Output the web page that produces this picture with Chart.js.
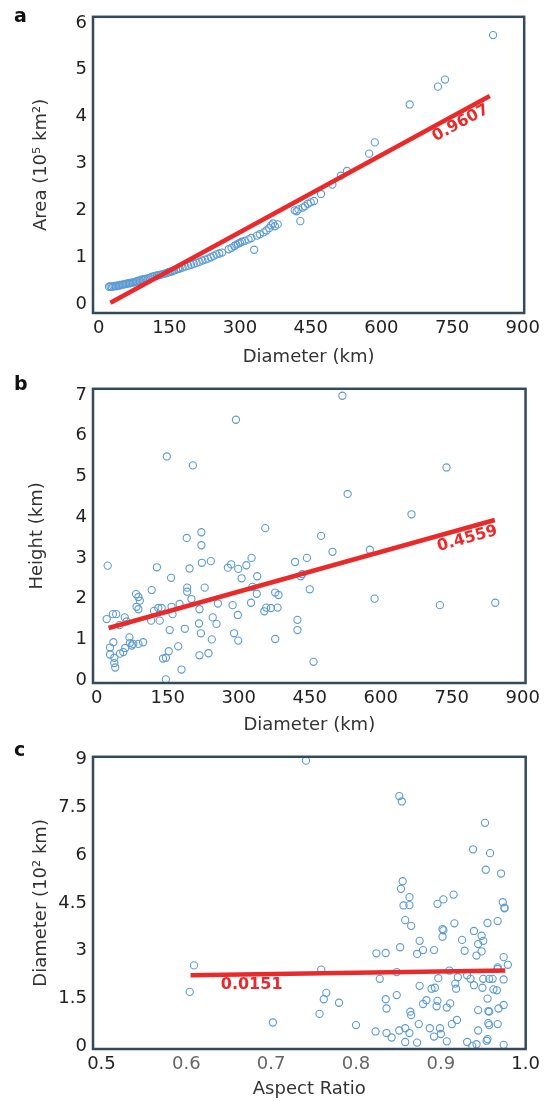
<!DOCTYPE html>
<html><head><meta charset="utf-8">
<script src="https://cdn.jsdelivr.net/npm/chart.js@4.4.1/dist/chart.umd.min.js"></script>
<style>
html,body{margin:0;padding:0;background:#fff;}
#wrap{position:relative;width:545px;height:1101px;overflow:hidden;background:#fff;}
canvas{position:absolute;left:0;}
.lbl{position:absolute;font:bold 19px "DejaVu Sans",sans-serif;color:#111;line-height:19px;}
</style></head><body>
<div id="wrap">
<canvas id="ca" width="545" height="372" style="top:0px"></canvas>
<canvas id="cb" width="545" height="368" style="top:372px"></canvas>
<canvas id="cc" width="545" height="361" style="top:740px"></canvas>
<div class="lbl" style="left:14px;top:6px">a</div>
<div class="lbl" style="left:14px;top:374px">b</div>
<div class="lbl" style="left:14px;top:740px">c</div>
</div>
<script>
// ---------- Panel a: Area vs Diameter ----------
const areaDiameterKm = [22,25,28,31,34,37,40,43,46,49,52,55,58,61,64,67,70,73,76,79,82,85,88,91,94,97,100,104,108,112,116,120,124,128,132,136,140,144,148,152,156,160,164,168,172,178,184,190,196,202,208,214,220,226,232,238,244,250,256,262,276,282,288,292,296,300,304,310,318,324,330,336,342,350,356,362,366,370,374,380,416,420,424,428,433,438,444,450,457,472,496,514,527,574,586,660,720,735,837];
const areaValues = [0.37,0.38,0.37,0.38,0.39,0.38,0.40,0.39,0.41,0.41,0.42,0.42,0.43,0.44,0.44,0.45,0.46,0.46,0.47,0.48,0.49,0.50,0.50,0.52,0.52,0.53,0.54,0.55,0.56,0.58,0.59,0.60,0.61,0.62,0.63,0.64,0.65,0.66,0.68,0.69,0.70,0.72,0.73,0.75,0.76,0.78,0.80,0.82,0.84,0.86,0.88,0.90,0.93,0.95,0.97,1.00,1.03,1.06,1.08,1.10,1.17,1.20,1.24,1.27,1.29,1.31,1.33,1.35,1.38,1.41,1.16,1.46,1.49,1.53,1.57,1.62,1.68,1.72,1.66,1.70,2.00,1.98,2.02,1.77,2.06,2.09,2.14,2.17,2.20,2.35,2.55,2.74,2.84,3.21,3.45,4.26,4.64,4.79,5.74];
const areaFitX = [25, 830];
const areaFitY = [0.03, 4.44];

// ---------- Panel b: Height vs Diameter ----------
const heightDiameterKm = [23,21,34,41,59,63,48,35,28,28,37,37,39,49,56,60,69,70,74,77,88,98,83,88,91,84,88,116,115,121,130,137,133,127,157,154,140,146,152,146,158,160,172,179,175,186,190,191,191,196,200,221,221,222,217,216,220,217,228,241,236,245,253,243,256,277,284,299,316,327,306,339,287,298,290,299,326,338,329,354,358,368,377,384,382,377,356,419,424,424,444,474,498,577,431,434,450,458,587,725,842,148,203,294,519,530,739,665];
const heightValues = [2.81,1.50,1.62,1.62,1.54,1.44,1.35,0.93,0.80,0.63,0.55,0.42,0.31,0.65,0.69,0.79,1.05,0.91,0.85,0.89,0.89,0.93,2.11,2.04,1.95,1.80,1.74,2.21,1.46,1.70,1.77,1.77,1.46,2.77,2.51,1.23,0.53,0.55,0.71,0.02,1.80,1.62,0.83,0.26,1.87,1.26,3.49,2.27,2.17,2.74,1.99,3.63,3.31,2.88,1.74,1.39,1.15,0.61,2.27,2.92,0.66,1.54,1.38,1.00,1.88,2.76,2.84,2.73,2.82,3.00,2.50,2.55,1.84,1.60,1.15,0.97,1.90,2.12,2.29,1.69,1.78,1.77,2.15,2.09,1.78,1.01,3.73,2.90,1.48,1.23,3.00,3.54,3.15,3.20,2.55,2.60,2.23,0.45,2.00,1.84,1.90,5.49,5.27,6.39,6.98,4.57,5.22,4.07];
const heightFitX = [25, 841];
const heightFitY = [1.28, 3.93];

// ---------- Panel c: Diameter vs Aspect Ratio ----------
const aspectRatio = [0.741,0.851,0.854,0.952,0.938,0.958,0.953,0.971,0.855,0.853,0.863,0.856,0.863,0.896,0.903,0.915,0.973,0.975,0.858,0.865,0.902,0.903,0.902,0.916,0.939,0.948,0.950,0.944,0.955,0.967,0.925,0.928,0.948,0.942,0.875,0.879,0.872,0.892,0.852,0.835,0.759,0.828,0.848,0.910,0.920,0.931,0.935,0.950,0.957,0.961,0.967,0.897,0.875,0.889,0.893,0.917,0.918,0.939,0.949,0.966,0.765,0.762,0.780,0.757,0.835,0.836,0.848,0.879,0.883,0.896,0.895,0.907,0.911,0.955,0.944,0.957,0.864,0.865,0.874,0.800,0.823,0.836,0.842,0.851,0.858,0.863,0.858,0.872,0.887,0.899,0.892,0.900,0.907,0.913,0.919,0.931,0.937,0.942,0.954,0.956,0.957,0.944,0.955,0.974,0.979,0.967,0.974,0.974,0.968,0.962,0.967,0.956,0.974,0.975,0.609,0.604,0.702,0.824];
const aspectDiameter = [8.96,7.85,7.68,7.01,6.18,6.06,5.54,5.42,5.18,4.94,4.68,4.42,4.43,4.47,4.61,4.76,4.52,4.35,3.96,3.78,3.68,3.64,3.44,3.86,3.62,3.47,3.31,3.21,3.87,3.93,3.34,3.00,2.98,2.85,3.31,3.02,2.90,3.02,3.11,2.93,2.41,2.12,2.33,2.38,2.17,2.23,2.12,2.12,2.12,2.12,2.43,2.14,1.90,1.81,1.84,1.97,1.81,1.92,1.84,1.76,1.68,1.48,1.37,1.02,1.48,1.19,1.61,1.33,1.45,1.43,1.26,1.22,1.35,1.50,1.14,1.09,1.09,0.98,0.70,0.67,0.47,0.42,0.28,0.50,0.57,0.42,0.14,0.12,0.57,0.57,0.31,0.39,0.16,0.70,0.83,0.14,0.02,0.07,0.18,0.73,0.67,0.50,0.23,2.80,2.56,2.48,2.10,1.30,1.19,1.79,0.70,1.11,0.05,4.33,2.54,1.71,0.75,2.92];
const aspectFitX = [0.605, 0.976];
const aspectFitY = [2.23, 2.38];

// ---------- Axis ticks ----------
const diameterTicks = [0,150,300,450,600,750,900];
const areaTicks = [0,1,2,3,4,5,6];
const heightTicks = [0,1,2,3,4,5,6,7];
const ratioTicks = [0.5,0.6,0.7,0.8,0.9,1];
const diam100Ticks = [0,1.5,3,4.5,6,7.5,9];

// ---------- Fit labels ----------
const fitLabels = ['0.9607','0.4559','0.0151'];

Chart.defaults.font.family = '"DejaVu Sans", sans-serif';
Chart.defaults.color = '#222';

const POINT = '#5b9bd5';
const RED = '#ea2a2a';
const BOX = '#34495e';

const boxPlugin = {
  id: 'box',
  afterDatasetsDraw(chart) {
    const {ctx, chartArea: a} = chart;
    ctx.save();
    ctx.strokeStyle = BOX;
    ctx.lineWidth = 2.5;
    ctx.strokeRect(a.left, a.top, a.right - a.left, a.bottom - a.top);
    ctx.restore();
  }
};

const fitLabelPlugin = {
  id: 'fitLabel',
  afterDatasetsDraw(chart, args, o) {
    if (!o || !o.text) return;
    const xs = chart.scales.x, ys = chart.scales.y;
    const d = chart.data.datasets[0].data;
    const x0 = xs.getPixelForValue(d[0].x), y0 = ys.getPixelForValue(d[0].y);
    const x1 = xs.getPixelForValue(d[1].x), y1 = ys.getPixelForValue(d[1].y);
    const ang = o.rotate ? Math.atan2(y1 - y0, x1 - x0) : 0;
    const ctx = chart.ctx;
    ctx.save();
    ctx.translate(xs.getPixelForValue(o.x), ys.getPixelForValue(o.y));
    ctx.rotate(ang);
    ctx.font = 'bold 16px "DejaVu Sans", sans-serif';
    ctx.fillStyle = RED;
    ctx.textAlign = o.align || 'center';
    ctx.textBaseline = 'middle';
    ctx.fillText(o.text, 0, 0);
    ctx.restore();
  }
};

function pts(xs, ys) { return xs.map((v, i) => ({x: v, y: ys[i]})); }

function makePanel(id, cfg) {
  const tickFont = {size: 18};
  new Chart(document.getElementById(id), {
    type: 'scatter',
    data: {
      datasets: [
        {
          data: pts(cfg.fitX, cfg.fitY),
          showLine: true,
          borderColor: RED,
          borderWidth: 4.5,
          pointRadius: 0,
          fill: false
        },
        {
          data: pts(cfg.xs, cfg.ys),
          pointRadius: 3.6,
          pointBorderWidth: 1.1,
          borderColor: POINT,
          pointBorderColor: POINT,
          backgroundColor: 'rgba(0,0,0,0)',
          pointBackgroundColor: 'rgba(0,0,0,0)'
        }
      ]
    },
    options: {
      responsive: false,
      animation: false,
      layout: {padding: {top: cfg.padTop, right: 17, left: 0, bottom: 0}},
      plugins: {
        legend: {display: false},
        tooltip: {enabled: false},
        fitLabel: cfg.label
      },
      scales: {
        x: {
          type: 'linear',
          min: cfg.xMin, max: cfg.xMax,
          afterBuildTicks: s => { s.ticks = cfg.xTicks.map(v => ({value: v})); },
          afterFit: s => { s.height = cfg.xAxisH; },
          grid: {display: false, drawTicks: false},
          border: {display: false},
          ticks: {padding: cfg.xTickPad, font: tickFont, color: cfg.xTickColor || '#222', maxRotation: 0, autoSkip: false},
          title: {display: true, text: cfg.xTitle, font: {size: 18}, color: '#333', padding: {top: 0, bottom: cfg.xTitlePad}}
        },
        y: {
          type: 'linear',
          min: cfg.yMin, max: cfg.yMax,
          afterBuildTicks: s => { s.ticks = cfg.yTicks.map(v => ({value: v})); },
          afterFit: s => { s.width = 93; },
          grid: {display: false, drawTicks: false},
          border: {display: false},
          ticks: {padding: 6, font: tickFont, color: '#222', autoSkip: false},
          title: {display: true, text: cfg.yTitle, font: {size: 18}, color: '#333', padding: {top: cfg.yTitlePad, bottom: 0}}
        }
      }
    },
    plugins: [boxPlugin, fitLabelPlugin]
  });
}

makePanel('ca', {
  xs: areaDiameterKm, ys: areaValues, fitX: areaFitX, fitY: areaFitY,
  xMin: -12, xMax: 903, yMin: -0.19, yMax: 6.13,
  xTicks: diameterTicks, yTicks: areaTicks,
  padTop: 16, xAxisH: 59, xTickPad: 5, xTitlePad: 4, yTitlePad: 31,
  xTitle: 'Diameter (km)', yTitle: 'Area (10\u2075 km\u00b2)',
  label: {text: fitLabels[0], x: 768, y: 3.86, rotate: true}
});

makePanel('cb', {
  xs: heightDiameterKm, ys: heightValues, fitX: heightFitX, fitY: heightFitY,
  xMin: -8, xMax: 906, yMin: -0.07, yMax: 7.15,
  xTicks: diameterTicks, yTicks: heightTicks,
  padTop: 14, xAxisH: 57, xTickPad: 5, xTitlePad: 4, yTitlePad: 27,
  xTitle: 'Diameter (km)', yTitle: 'Height (km)',
  label: {text: fitLabels[1], x: 783, y: 3.47, rotate: true}
});

makePanel('cc', {
  xs: aspectRatio, ys: aspectDiameter, fitX: aspectFitX, fitY: aspectFitY,
  xMin: 0.49, xMax: 1.0, yMin: -0.08, yMax: 9.08,
  xTicks: ratioTicks, yTicks: diam100Ticks,
  padTop: 14, xAxisH: 52, xTickPad: 5, xTitlePad: 1, yTitlePad: 31,
  xTickColor: ctx => (ctx.index === 0 || ctx.index === 5) ? '#222' : '#666',
  xTitle: 'Aspect Ratio', yTitle: 'Diameter (10\u00b2 km)',
  label: {text: fitLabels[2], x: 0.6406, y: 1.93, rotate: false, align: 'left'}
});
</script>
</body></html>
